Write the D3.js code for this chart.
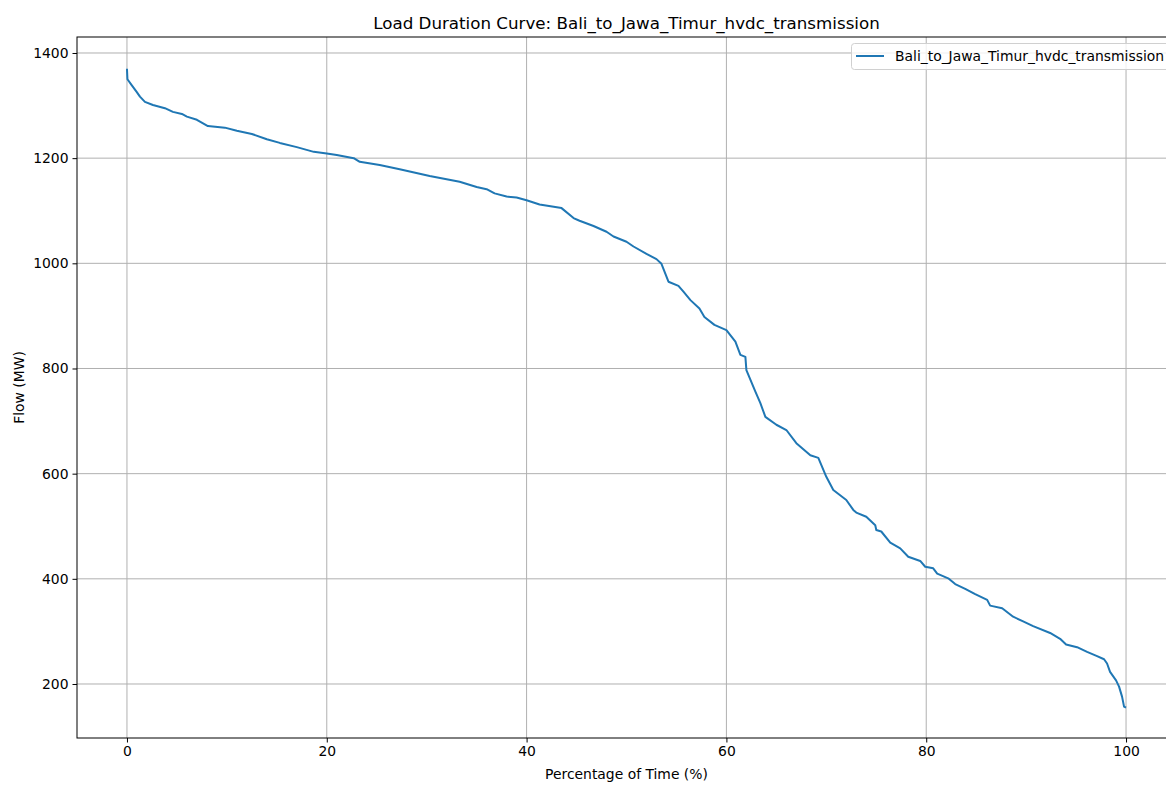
<!DOCTYPE html>
<html>
<head>
<meta charset="utf-8">
<script src="https://cdn.jsdelivr.net/npm/d3@7"></script>
<style>
  body { margin: 0; background: #fff; }
  svg { display: block; font-family: "DejaVu Sans", sans-serif; }
</style>
</head>
<body>
<svg id="chart" width="1166" height="785"></svg>
<script>
const seriesName = "Bali_to_Jawa_Timur_hvdc_transmission";
const titleText = "Load Duration Curve: " + seriesName;
const xLabel = "Percentage of Time (%)";
const yLabel = "Flow (MW)";
const xTicks = [0, 20, 40, 60, 80, 100];
const yTicks = [200, 400, 600, 800, 1000, 1200, 1400];

// percentage of time (%)
const pct = [0, 0.05, 0.47, 0.97, 1.3, 1.8, 2.6, 3.8, 4.6, 5.5, 6.0, 7.0, 8.1, 9.8, 11.0, 12.5, 14.0, 15.3, 17.0, 18.7, 20.0, 21.0, 22.7, 23.3, 25.3, 27.3, 30.3, 33.3, 35.0, 36.0, 36.8, 38.0, 39.0, 40.0, 41.3, 43.5, 44.7, 45.3, 46.7, 48.0, 48.7, 50.0, 50.7, 52.0, 53.0, 53.5, 54.2, 55.2, 55.7, 56.4, 57.3, 57.8, 58.8, 60.0, 60.9, 61.4, 61.9, 62.0, 62.9, 63.4, 63.9, 65.0, 66.0, 67.0, 68.4, 69.2, 70.0, 70.7, 72.0, 72.7, 73.0, 74.0, 74.9, 75.0, 75.5, 76.4, 77.4, 78.2, 79.4, 79.9, 80.7, 81.1, 82.2, 82.9, 83.9, 84.9, 86.1, 86.4, 87.6, 88.7, 89.7, 90.7, 92.4, 93.4, 94.0, 95.1, 96.1, 97.1, 97.8, 98.1, 98.4, 99.0, 99.3, 99.6, 99.8, 100];
// flow (MW)
const flow = [1370, 1350, 1339, 1326, 1317, 1307, 1301, 1295, 1288, 1284, 1279, 1273, 1261, 1258, 1252, 1246, 1236, 1229, 1221, 1212, 1209, 1206, 1200, 1193, 1187, 1179, 1166, 1155, 1145, 1141, 1133, 1127, 1125, 1120, 1112, 1105, 1086, 1081, 1071, 1060, 1051, 1041, 1032, 1018, 1008, 999, 965, 957, 946, 930, 914, 898, 883, 873, 851, 826, 822, 797, 756, 734, 708, 693, 683, 658, 635, 630, 594, 569, 550, 531, 526, 518, 502, 493, 490, 469, 458, 442, 434, 423, 420, 410, 401, 390, 381, 371, 360, 349, 344, 328, 319, 310, 297, 286, 275, 270, 261, 253, 247, 239, 223, 207, 195, 176, 157, 155];

const data = pct.map((p, i) => ({ p, v: flow[i] }));

const svg = d3.select("#chart");
const mLeft = 77, mRight = 1176, mTop = 37, mBottom = 738;

const x = d3.scaleLinear().domain([-5, 105]).range([mLeft, mRight]);
const y = d3.scaleLinear().domain([97.3, 1430.4]).range([mBottom, mTop]);

const gridColor = "#b0b0b0";

// grid
svg.append("g").selectAll("line").data(xTicks).join("line")
  .attr("x1", d => x(d)).attr("x2", d => x(d))
  .attr("y1", mTop).attr("y2", mBottom)
  .attr("stroke", gridColor).attr("stroke-width", 1);
svg.append("g").selectAll("line").data(yTicks).join("line")
  .attr("x1", mLeft).attr("x2", mRight)
  .attr("y1", d => y(d)).attr("y2", d => y(d))
  .attr("stroke", gridColor).attr("stroke-width", 1);

// line
const line = d3.line().x(d => x(d.p)).y(d => y(d.v));
svg.append("path").datum(data)
  .attr("d", line)
  .attr("fill", "none")
  .attr("stroke", "#1f77b4")
  .attr("stroke-width", 2)
  .attr("stroke-linejoin", "round");

// axes
const xAxis = d3.axisBottom(x).tickValues(xTicks).tickSize(4.5).tickPadding(4).tickFormat(d3.format("d"));
const yAxis = d3.axisLeft(y).tickValues(yTicks).tickSize(4.5).tickPadding(4).tickFormat(d3.format("d"));

const gx = svg.append("g").attr("transform", `translate(0,${mBottom})`).call(xAxis);
const gy = svg.append("g").attr("transform", `translate(${mLeft},0)`).call(yAxis);
[gx, gy].forEach(g => {
  g.select(".domain").remove();
  g.selectAll(".tick line").attr("stroke", "#000").attr("stroke-width", 1);
  g.selectAll(".tick text").attr("fill", "#000").style("font-size", "13.9px").style("font-family", "DejaVu Sans");
});

// frame
svg.append("rect").attr("x", mLeft).attr("y", mTop)
  .attr("width", mRight - mLeft).attr("height", mBottom - mTop)
  .attr("fill", "none").attr("stroke", "#000").attr("stroke-width", 1);

// title and labels
svg.append("text").attr("x", (mLeft + mRight) / 2).attr("y", 29)
  .attr("text-anchor", "middle").style("font-size", "16.7px").text(titleText);
svg.append("text").attr("x", (mLeft + mRight) / 2).attr("y", 779)
  .attr("text-anchor", "middle").style("font-size", "13.9px").text(xLabel);
svg.append("text").attr("transform", `translate(24,${(mTop + mBottom) / 2}) rotate(-90)`)
  .attr("text-anchor", "middle").style("font-size", "13.9px").text(yLabel);

// legend
const lg = svg.append("g");
lg.append("rect").attr("x", 851.5).attr("y", 43.5).attr("width", 330).attr("height", 26)
  .attr("rx", 3).attr("fill", "#fff").attr("fill-opacity", 0.8)
  .attr("stroke", "#d0d0d0").attr("stroke-width", 1);
lg.append("line").attr("x1", 856).attr("x2", 884).attr("y1", 56).attr("y2", 56)
  .attr("stroke", "#1f77b4").attr("stroke-width", 2);
lg.append("text").attr("x", 895).attr("y", 61).style("font-size", "13.9px").text(seriesName);
</script>
</body>
</html>
